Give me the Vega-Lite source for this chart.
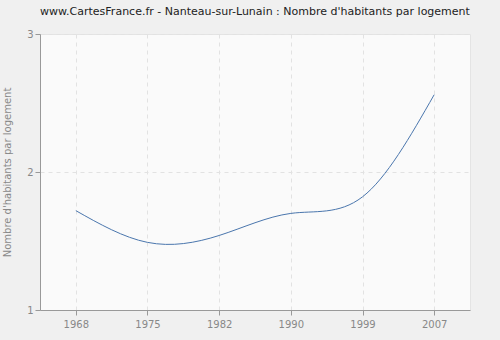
{
  "$schema": "https://vega.github.io/schema/vega-lite/v6.json",
  "width": 430,
  "height": 276,
  "autosize": {"type": "none"},
  "padding": {"left": 40, "top": 34, "right": 30, "bottom": 30},
  "background": "#f0f0f0",
  "title": {
    "text": "www.CartesFrance.fr - Nanteau-sur-Lunain : Nombre d'habitants par logement",
    "font": "DejaVu Sans",
    "fontSize": 11,
    "fontWeight": "normal",
    "color": "#222222",
    "anchor": "middle",
    "offset": 12
  },
  "config": {
    "view": {"fill": "#fafafa", "stroke": "#e4e4e4"},
    "axis": {
      "labelFont": "DejaVu Sans",
      "labelFontSize": 10,
      "labelColor": "#888888",
      "titleFont": "DejaVu Sans",
      "titleFontSize": 10,
      "titleFontWeight": "normal",
      "titleColor": "#888888",
      "domainColor": "#999999",
      "tickColor": "#999999",
      "gridColor": "#e2e2e2",
      "gridDash": [4, 4]
    }
  },
  "data": {
    "values": [
      {"year": "1968", "value": 1.72},
      {"year": "1975", "value": 1.49},
      {"year": "1982", "value": 1.54},
      {"year": "1990", "value": 1.70},
      {"year": "1999", "value": 1.82},
      {"year": "2007", "value": 2.56}
    ]
  },
  "mark": {"type": "line", "interpolate": "natural", "color": "#4a76ad", "strokeWidth": 1},
  "encoding": {
    "x": {
      "field": "year",
      "type": "ordinal",
      "scale": {"type": "point", "padding": 0.5},
      "axis": {"title": null, "labelAngle": 0, "grid": true, "tickSize": 5, "labelPadding": 4}
    },
    "y": {
      "field": "value",
      "type": "quantitative",
      "scale": {"domain": [1, 3], "nice": false},
      "axis": {
        "title": "Nombre d'habitants par logement",
        "tickCount": 2,
        "grid": true,
        "tickSize": 5,
        "titlePadding": 14
      }
    }
  }
}
